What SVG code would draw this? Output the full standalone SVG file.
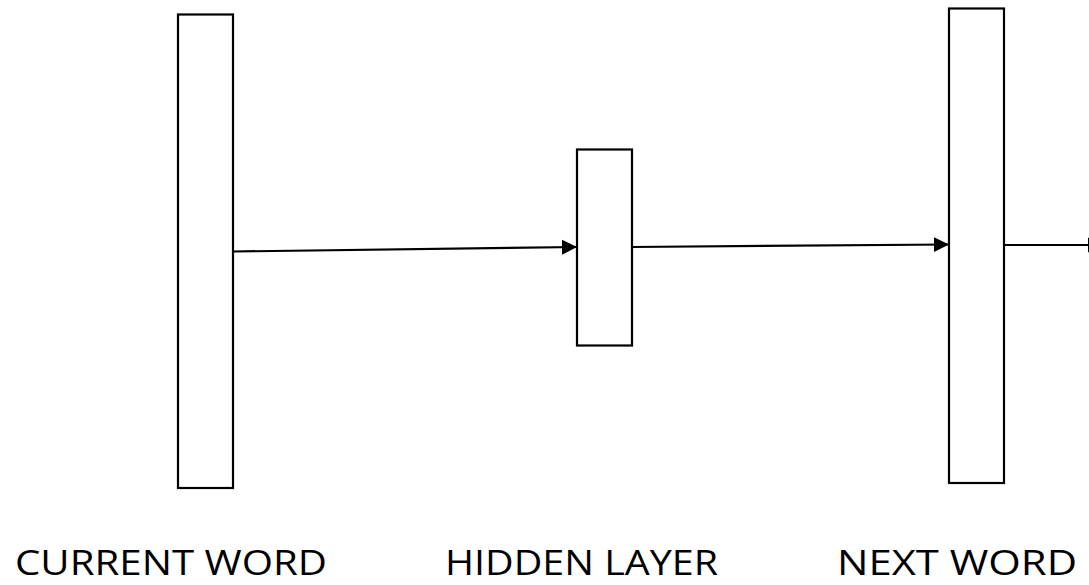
<svg xmlns="http://www.w3.org/2000/svg" width="1089" height="585" viewBox="0 0 1089 585">
  <style>
    .layer { fill: #ffffff; stroke: #000000; stroke-width: 2.2; }
    .edge { fill: none; stroke: #000000; stroke-width: 2.2; }
    .label { font-family: "Open Sans", "Liberation Sans", sans-serif; font-size: 34px; fill: #000000; }
  </style>
  <defs>
    <marker id="arrow" markerUnits="userSpaceOnUse" markerWidth="16" markerHeight="16" refX="15" refY="8" orient="auto">
      <path d="M0,0.5 L15,8 L0,15.5 Z" fill="#000000"/>
    </marker>
  </defs>
  <rect width="1089" height="585" fill="#ffffff"/>

  <g id="connectors">
    <line class="edge" x1="233" y1="251.5" x2="577" y2="247" marker-end="url(#arrow)"/>
    <line class="edge" x1="632" y1="247" x2="949" y2="244.5" marker-end="url(#arrow)"/>
    <line class="edge" x1="1004" y1="245" x2="1103" y2="245" marker-end="url(#arrow)"/>
  </g>

  <g id="current-word">
    <rect class="layer" x="178" y="14.5" width="55" height="473.5"/>
    <text class="label" x="15" y="575" textLength="312" lengthAdjust="spacingAndGlyphs">CURRENT WORD</text>
  </g>

  <g id="hidden-layer">
    <rect class="layer" x="577" y="149.5" width="55" height="196"/>
    <text class="label" x="445" y="575" textLength="273" lengthAdjust="spacingAndGlyphs">HIDDEN LAYER</text>
  </g>

  <g id="next-word">
    <rect class="layer" x="949" y="8.5" width="55" height="474.5"/>
    <text class="label" x="837" y="575" textLength="240" lengthAdjust="spacingAndGlyphs">NEXT WORD</text>
  </g>
</svg>
